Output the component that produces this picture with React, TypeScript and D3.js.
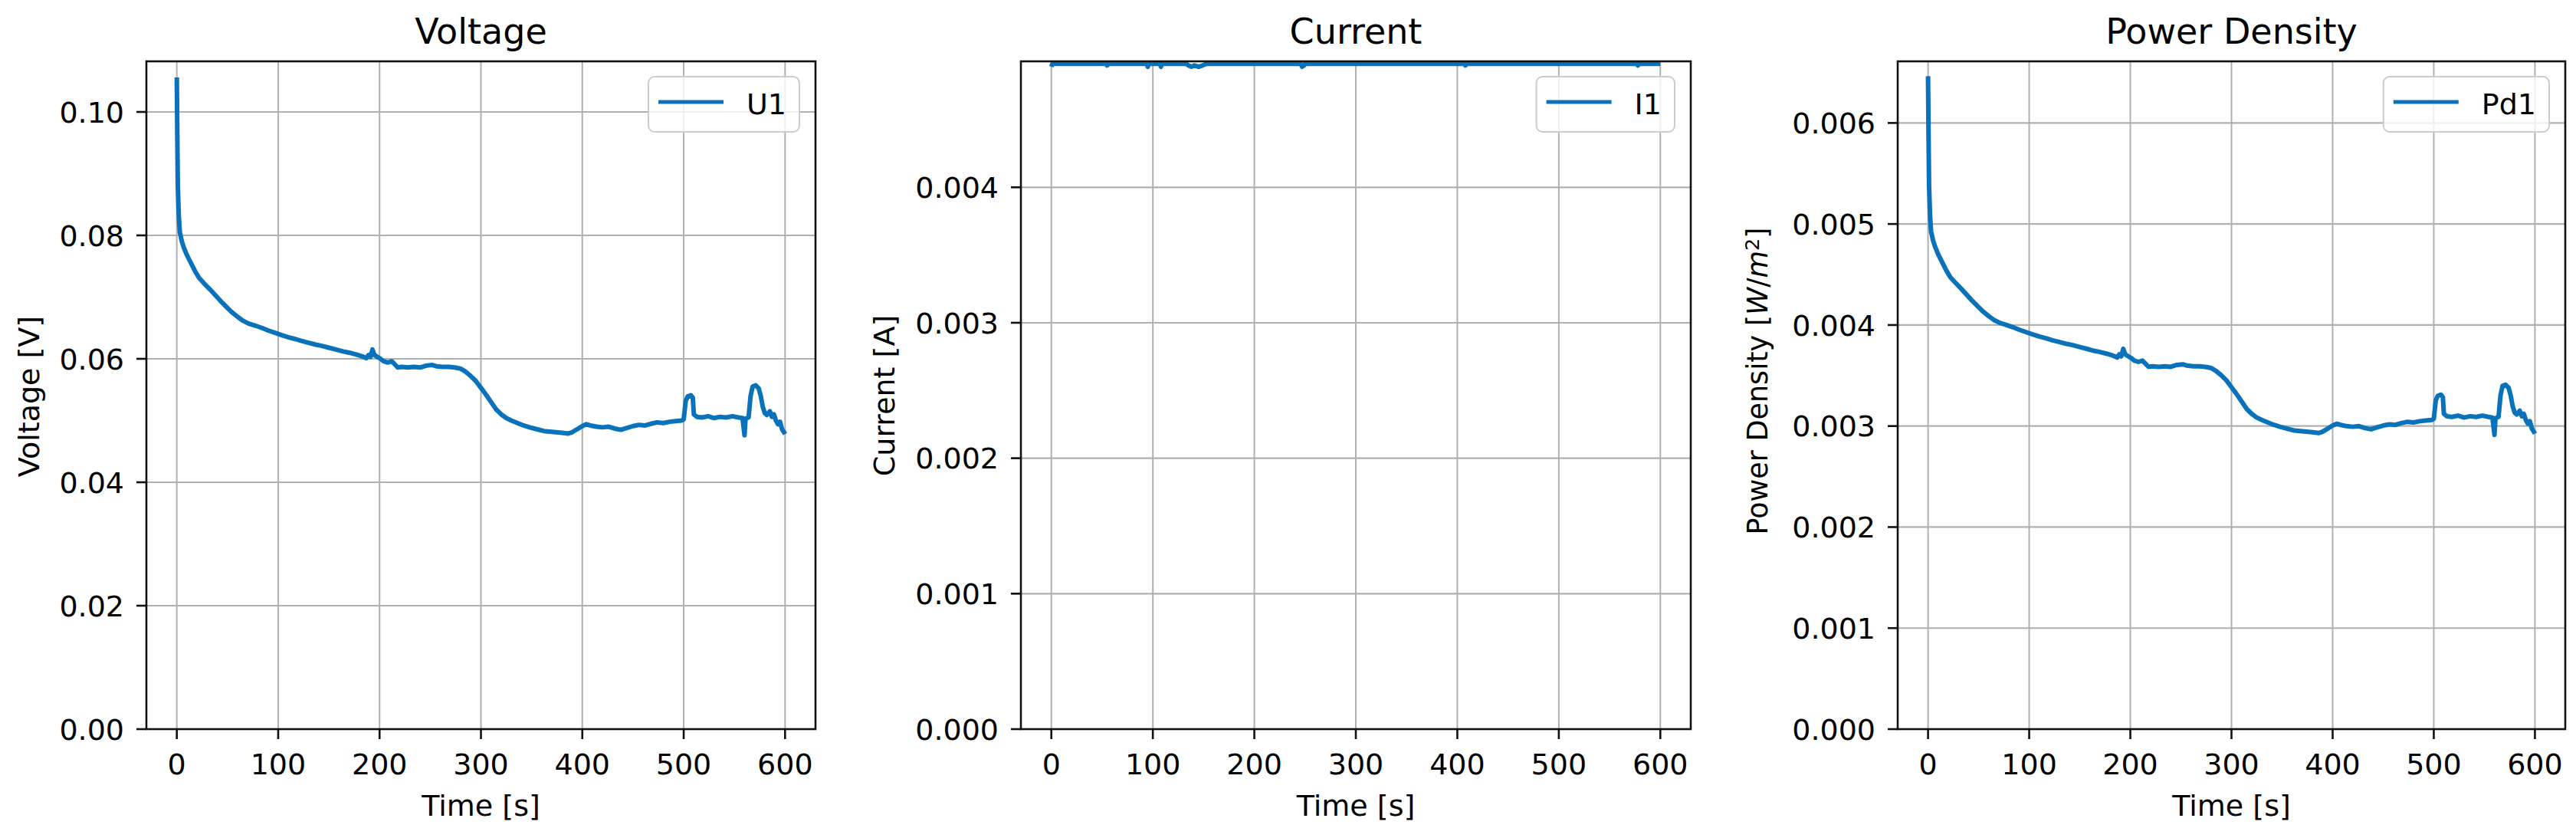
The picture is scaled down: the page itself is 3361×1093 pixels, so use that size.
import React, { useEffect, useRef } from "react";
import * as d3 from "d3";

// ---------------- DATA ----------------
const TIME_S = [
  0, 0.5, 1, 2, 3, 5, 7, 10, 14, 18, 22, 27, 33, 38, 43, 49, 54, 60, 65, 71,
  77, 84, 90, 97, 104, 110, 117, 123, 130, 137, 143, 150, 157, 164, 170, 177,
  183, 187, 189, 191, 193, 195, 198, 201, 204, 208, 212, 215, 218, 222, 228,
  234, 240, 246, 252, 256, 262, 268, 274, 280, 285, 290, 295, 300, 305, 310,
  315, 320, 325, 330, 336, 342, 348, 355, 362, 368, 374, 380, 386, 390, 395,
  400, 404, 408, 414, 420, 426, 432, 438, 444, 450, 456, 462, 468, 474, 480,
  486, 492, 498, 500, 502, 504, 507, 509, 510, 513, 518, 524, 530, 536, 542,
  548, 554, 558, 560, 561, 564, 566, 568, 571, 574, 576, 578, 580, 582, 585,
  587, 589, 591, 593, 595, 597, 599, 600,
];

const VOLTAGE_U1 = [
  0.1056, 0.096, 0.088, 0.083, 0.0805, 0.079, 0.078, 0.0768, 0.0755, 0.0742,
  0.0731, 0.0722, 0.0712, 0.0703, 0.0694, 0.0684, 0.0676, 0.0668, 0.0662,
  0.0657, 0.0654, 0.065, 0.0646, 0.0642, 0.0638, 0.0635, 0.0632, 0.0629,
  0.0626, 0.0623, 0.0621, 0.0618, 0.0615, 0.0612, 0.061, 0.0607, 0.0604,
  0.0601, 0.0606, 0.0603, 0.0615, 0.0606, 0.0603, 0.06, 0.0596, 0.0594,
  0.0596, 0.0591, 0.0586, 0.0587, 0.0586, 0.0587, 0.0586, 0.0589, 0.059,
  0.0588, 0.0587, 0.0587, 0.0586, 0.0584, 0.0579, 0.0572, 0.0564, 0.0553,
  0.0542, 0.053, 0.0518, 0.051, 0.0504, 0.05, 0.0496, 0.0492, 0.0489, 0.0486,
  0.0483, 0.0482, 0.0481, 0.048, 0.0479, 0.0481, 0.0486, 0.0491, 0.0494,
  0.0492, 0.049, 0.0489, 0.049, 0.0487, 0.0485, 0.0488, 0.0491, 0.0493,
  0.0492, 0.0495, 0.0497, 0.0496, 0.0498, 0.0499, 0.05, 0.0502, 0.0532,
  0.0539, 0.0541, 0.0537, 0.051, 0.0506, 0.0505, 0.0507, 0.0504, 0.0506,
  0.0505, 0.0507, 0.0505, 0.0504, 0.0476, 0.0503, 0.0505, 0.054, 0.0555,
  0.0557, 0.0552, 0.054, 0.0522, 0.0512, 0.0509, 0.0515, 0.0506, 0.051, 0.05,
  0.0494, 0.0498, 0.0486, 0.0481, 0.0478,
];

const POWER_DENSITY_PD1 = [
  0.006463, 0.005875, 0.005386, 0.00508, 0.004927, 0.004835, 0.004774,
  0.0047, 0.004621, 0.004541, 0.004474, 0.004419, 0.004357, 0.004302,
  0.004247, 0.004186, 0.004137, 0.004088, 0.004051, 0.004021, 0.004002,
  0.003978, 0.003954, 0.003929, 0.003905, 0.003886, 0.003868, 0.003849,
  0.003831, 0.003813, 0.003801, 0.003782, 0.003764, 0.003745, 0.003733,
  0.003715, 0.003696, 0.003678, 0.003709, 0.00369, 0.003764, 0.003709,
  0.00369, 0.003672, 0.003648, 0.003635, 0.003648, 0.003617, 0.003586,
  0.003592, 0.003586, 0.003592, 0.003586, 0.003605, 0.003611, 0.003599,
  0.003592, 0.003592, 0.003586, 0.003574, 0.003543, 0.003501, 0.003452,
  0.003384, 0.003317, 0.003244, 0.00317, 0.003121, 0.003084, 0.00306,
  0.003036, 0.003011, 0.002993, 0.002974, 0.002956, 0.00295, 0.002944,
  0.002938, 0.002931, 0.002944, 0.002974, 0.003005, 0.003023, 0.003011,
  0.002999, 0.002993, 0.002999, 0.00298, 0.002968, 0.002987, 0.003005,
  0.003017, 0.003011, 0.003029, 0.003042, 0.003036, 0.003048, 0.003054,
  0.00306, 0.003072, 0.003256, 0.003299, 0.003311, 0.003286, 0.003121,
  0.003097, 0.003091, 0.003103, 0.003084, 0.003097, 0.003091, 0.003103,
  0.003091, 0.003084, 0.002913, 0.003078, 0.003091, 0.003305, 0.003397,
  0.003409, 0.003378, 0.003305, 0.003195, 0.003133, 0.003115, 0.003152,
  0.003097, 0.003121, 0.00306, 0.003023, 0.003048, 0.002974, 0.002944,
  0.002925,
];

const TIME_CURRENT_S = [
  0, 1, 54, 55, 56, 94, 95, 96, 107, 108, 109, 133, 135, 138, 141, 145, 149,
  153, 246, 247, 249, 250, 407, 408, 409, 577, 578, 579, 600,
];
const CURRENT_I1 = [
  0.00489, 0.004912, 0.004912, 0.0049, 0.004912, 0.004912, 0.00489, 0.004912,
  0.004912, 0.00489, 0.004912, 0.004912, 0.0049, 0.00489, 0.0049, 0.00489,
  0.0049, 0.004912, 0.004912, 0.00489, 0.0049, 0.004912, 0.004912, 0.0049,
  0.004912, 0.004912, 0.0049, 0.004912, 0.004912,
];

const X_TICKS = [0, 100, 200, 300, 400, 500, 600];
const Y_TICKS_U = [0, 0.02, 0.04, 0.06, 0.08, 0.1];
const Y_TICKS_I = [0, 0.001, 0.002, 0.003, 0.004];
const Y_TICKS_PD = [0, 0.001, 0.002, 0.003, 0.004, 0.005, 0.006];

const TITLES = ["Voltage", "Current", "Power Density"];
const LEGENDS = ["U1", "I1", "Pd1"];

// ---------------- LAYOUT ----------------
const W = 3361;
const H = 1093;
const TOP = 80;
const BOTTOM = 951;
const X_DOMAIN = [-30, 630];
const FONT = "'DejaVu Sans', Verdana, sans-serif";
const LINE_COLOR = "#0a72ba";
const GRID_COLOR = "#b0b0b0";
const LINE_W = 6;

const PANELS = [
  { left: 191, right: 1064, t: TIME_S, v: VOLTAGE_U1, yMax: 0.1082, ticks: Y_TICKS_U, fmt: ".2f", labelX: 37, labelY: 517, kind: "U" },
  { left: 1332, right: 2206, t: TIME_CURRENT_S, v: CURRENT_I1, yMax: 0.00493, ticks: Y_TICKS_I, fmt: ".3f", labelX: 1153, labelY: 516, kind: "I" },
  { left: 2476, right: 3347, t: TIME_S, v: POWER_DENSITY_PD1, yMax: 0.00661, ticks: Y_TICKS_PD, fmt: ".3f", labelX: 2293, labelY: 497, kind: "P" },
];

export default function App() {
  const ref = useRef<SVGSVGElement | null>(null);

  useEffect(() => {
    const svg = d3.select(ref.current);
    svg.selectAll("*").remove();
    svg.append("rect").attr("width", W).attr("height", H).attr("fill", "#fff");

    PANELS.forEach((p, i) => {
      const x = d3.scaleLinear().domain(X_DOMAIN).range([p.left, p.right]);
      const y = d3.scaleLinear().domain([0, p.yMax]).range([BOTTOM, TOP]);
      const g = svg.append("g");
      const clipId = `clip${i}`;
      g.append("clipPath").attr("id", clipId).append("rect")
        .attr("x", p.left).attr("y", TOP).attr("width", p.right - p.left).attr("height", BOTTOM - TOP);

      // grid
      g.selectAll(".vg").data(X_TICKS).enter().append("line")
        .attr("x1", (d) => x(d)).attr("x2", (d) => x(d)).attr("y1", TOP).attr("y2", BOTTOM)
        .attr("stroke", GRID_COLOR).attr("stroke-width", 2);
      g.selectAll(".hg").data(p.ticks).enter().append("line")
        .attr("x1", p.left).attr("x2", p.right).attr("y1", (d) => y(d)).attr("y2", (d) => y(d))
        .attr("stroke", GRID_COLOR).attr("stroke-width", 2.2);

      // data line
      const pts = p.t.map((tt, k) => [tt, p.v[k]] as [number, number]);
      const line = d3.line<[number, number]>().x((d) => x(d[0])).y((d) => y(d[1]));
      g.append("path").attr("d", line(pts) || "").attr("fill", "none")
        .attr("stroke", LINE_COLOR).attr("stroke-width", LINE_W)
        .attr("stroke-linejoin", "round").attr("stroke-linecap", "butt")
        .attr("clip-path", `url(#${clipId})`);

      // frame
      g.append("rect").attr("x", p.left).attr("y", TOP)
        .attr("width", p.right - p.left).attr("height", BOTTOM - TOP)
        .attr("fill", "none").attr("stroke", "#111").attr("stroke-width", 2.6);

      // x ticks
      g.selectAll(".xt").data(X_TICKS).enter().append("line")
        .attr("x1", (d) => x(d)).attr("x2", (d) => x(d)).attr("y1", BOTTOM).attr("y2", BOTTOM + 13)
        .attr("stroke", "#111").attr("stroke-width", 2.6);
      g.selectAll(".xl").data(X_TICKS).enter().append("text")
        .attr("x", (d) => x(d)).attr("y", 1010).attr("text-anchor", "middle")
        .attr("font-family", FONT).attr("font-size", 38).attr("fill", "#000")
        .text((d) => String(d));

      // y ticks
      const fmt = d3.format(p.fmt);
      g.selectAll(".yt").data(p.ticks).enter().append("line")
        .attr("x1", p.left - 13).attr("x2", p.left).attr("y1", (d) => y(d)).attr("y2", (d) => y(d))
        .attr("stroke", "#111").attr("stroke-width", 2.6);
      g.selectAll(".yl").data(p.ticks).enter().append("text")
        .attr("x", p.left - 29).attr("y", (d) => y(d)).attr("dy", "0.36em").attr("text-anchor", "end")
        .attr("font-family", FONT).attr("font-size", 38).attr("fill", "#000")
        .text((d) => fmt(d));

      // title
      g.append("text").attr("x", (p.left + p.right) / 2).attr("y", 57).attr("text-anchor", "middle")
        .attr("font-family", FONT).attr("font-size", 46).attr("fill", "#000").text(TITLES[i]);

      // x label
      g.append("text").attr("x", (p.left + p.right) / 2).attr("y", 1064).attr("text-anchor", "middle")
        .attr("font-family", FONT).attr("font-size", 38).attr("fill", "#000").text("Time [s]");

      // y label
      const yl = g.append("text")
        .attr("transform", `translate(${p.labelX},${p.labelY}) rotate(-90)`)
        .attr("text-anchor", "middle").attr("dy", "0.36em")
        .attr("font-family", FONT).attr("font-size", 38).attr("fill", "#000");
      if (p.kind === "U") yl.text("Voltage [V]");
      else if (p.kind === "I") yl.text("Current [A]");
      else {
        yl.attr("font-size", 36.5);
        yl.append("tspan").text("Power Density [");
        yl.append("tspan").attr("font-style", "italic").text("W");
        yl.append("tspan").text("/");
        yl.append("tspan").attr("font-style", "italic").text("m");
        yl.append("tspan").attr("dy", "-0.45em").attr("font-size", "0.7em").text("2");
        yl.append("tspan").attr("dy", "0.32em").text("]");
      }

      // legend
      const lg = g.append("g");
      const box = lg.append("rect");
      const txt = lg.append("text").attr("font-family", FONT).attr("font-size", 38).attr("fill", "#000")
        .text(LEGENDS[i]);
      const tw = (txt.node() as SVGTextElement).getComputedTextLength();
      const bw = 13 + 85 + 30 + tw + 17;
      const bx = p.right - 21 - bw;
      const by = TOP + 20;
      box.attr("x", bx).attr("y", by).attr("width", bw).attr("height", 72).attr("rx", 8)
        .attr("fill", "#fff").attr("fill-opacity", 0.8).attr("stroke", "#cccccc").attr("stroke-width", 2);
      lg.append("line").attr("x1", bx + 13).attr("x2", bx + 98).attr("y1", by + 33).attr("y2", by + 33)
        .attr("stroke", LINE_COLOR).attr("stroke-width", 5);
      txt.attr("x", bx + 128).attr("y", by + 49);
    });
  }, []);

  return (
    <svg ref={ref} width={W} height={H} style={{ position: "absolute", left: 0, top: 0, display: "block" }} />
  );
}
